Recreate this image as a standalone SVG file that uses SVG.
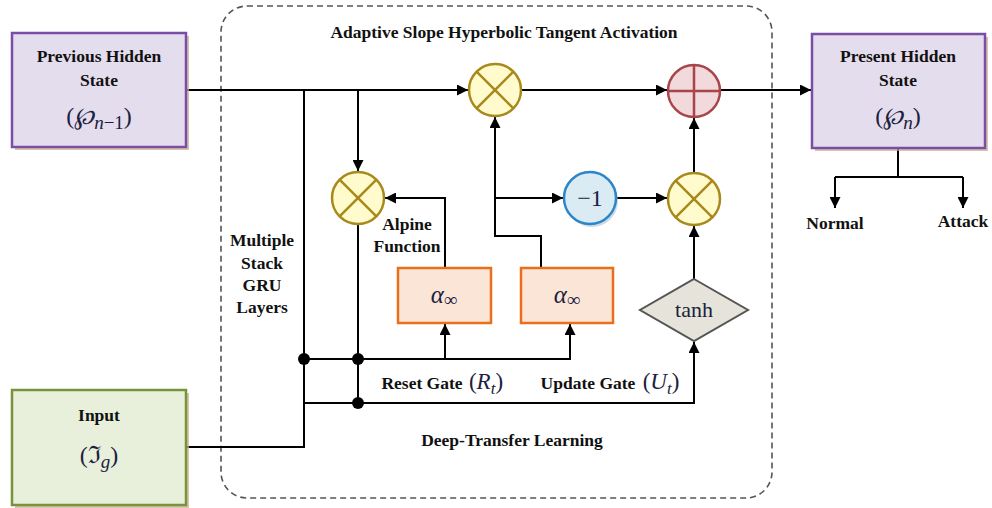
<svg xmlns="http://www.w3.org/2000/svg" width="992" height="508" viewBox="0 0 992 508">
  <style>
    .lbl { font-family: "Liberation Serif", "Times New Roman", serif; font-weight: bold; font-size: 17.5px; fill: #111; text-anchor: middle; }
    .math { font-family: "Liberation Serif", "DejaVu Serif", serif; fill: #1c2140; text-anchor: middle; }
    .it { font-style: italic; }
    .wp { font-family: "DejaVu Serif", serif; font-style: italic; }
    .wire { fill: none; stroke: #000; stroke-width: 2; }
    .arr { fill: none; stroke: #000; stroke-width: 2; marker-end: url(#ah); }
    .mul { fill: #fffbcc; stroke: #a8891c; stroke-width: 2.5; }
    .mulx { stroke: #a8891c; stroke-width: 2.5; }
    .shadow { fill: #c9a98a; opacity: 0.7; }
  </style>
  <defs>
    <marker id="ah" viewBox="0 0 10 10" refX="10" refY="5" markerWidth="5.5" markerHeight="5.5" orient="auto" markerUnits="strokeWidth">
      <path d="M0,0 L10,5 L0,10 Z" fill="#000"/>
    </marker>
  </defs>

  <rect width="992" height="508" fill="#fff"/>

  <!-- dashed container -->
  <g id="container">
    <rect x="221" y="6" width="551" height="492" rx="26" fill="none" stroke="#555" stroke-width="1.6" stroke-dasharray="6 4"/>
    <text class="lbl" x="504" y="38" font-size="18">Adaptive Slope Hyperbolic Tangent Activation</text>
    <text class="lbl" x="512" y="446">Deep-Transfer Learning</text>
    <text class="lbl" x="262" y="246">Multiple</text>
    <text class="lbl" x="262" y="269">Stack</text>
    <text class="lbl" x="262" y="291">GRU</text>
    <text class="lbl" x="262" y="313">Layers</text>
  </g>

  <!-- connectors -->
  <g id="connectors">
    <path class="arr" d="M187 90 H468"/>
    <path class="wire" d="M304 90 V447 H187"/>
    <path class="arr" d="M358 90 V171"/>
    <path class="arr" d="M521 90 H667"/>
    <path class="arr" d="M721 90 H811"/>
    <path class="arr" d="M541 268 V236 H495 V117"/>
    <path class="arr" d="M495 198 H563"/>
    <path class="arr" d="M617 198 H667"/>
    <path class="arr" d="M694 172 V118"/>
    <path class="arr" d="M694 279 V226"/>
    <path class="arr" d="M445 268 V198 H385"/>
    <path class="wire" d="M358 224 V403"/>
    <path class="arr" d="M304 359 H570 V324"/>
    <path class="arr" d="M445 359 V324"/>
    <path class="arr" d="M304 403 H694 V342"/>
    <path class="wire" d="M898 149 V177 M835 177 H963"/>
    <path class="arr" d="M835 177 V208"/>
    <path class="arr" d="M963 177 V208"/>
    <circle cx="304" cy="359" r="6" fill="#000"/>
    <circle cx="358" cy="359" r="6" fill="#000"/>
    <circle cx="358" cy="403" r="6" fill="#000"/>
  </g>

  <g id="prev-hidden">
    <rect class="shadow" x="15" y="36" width="174" height="114"/>
    <rect x="12" y="33" width="174" height="114" fill="#e4dded" stroke="#7b4ea6" stroke-width="2.5"/>
    <text class="lbl" x="99" y="62">Previous Hidden</text>
    <text class="lbl" x="99" y="86">State</text>
    <text class="math" x="99" y="124" font-size="24">(<tspan class="wp">℘</tspan><tspan class="it" font-size="19" dy="5">n</tspan><tspan font-size="19">−1</tspan><tspan dy="-5">)</tspan></text>
  </g>

  <g id="input">
    <rect class="shadow" x="15" y="393" width="174" height="115"/>
    <rect x="12" y="390" width="174" height="115" fill="#e8f0dc" stroke="#77933c" stroke-width="2.5"/>
    <text class="lbl" x="99" y="421">Input</text>
    <text class="math" x="99" y="463" font-size="24">(<tspan font-family="DejaVu Serif">ℑ</tspan><tspan class="it" font-size="19" dy="5">g</tspan><tspan dy="-5">)</tspan></text>
  </g>

  <g id="present-hidden">
    <rect class="shadow" x="815" y="37" width="173" height="114"/>
    <rect x="812" y="34" width="173" height="114" fill="#e4dded" stroke="#7b4ea6" stroke-width="2.5"/>
    <text class="lbl" x="898" y="62">Present Hidden</text>
    <text class="lbl" x="898" y="86">State</text>
    <text class="math" x="898" y="124" font-size="24">(<tspan class="wp">℘</tspan><tspan class="it" font-size="19" dy="5">n</tspan><tspan dy="-5">)</tspan></text>
  </g>

  <g id="mul-top">
    <circle class="mul" cx="495" cy="90" r="26"/>
    <path class="mulx" d="M476.6 71.6 L513.4 108.4 M513.4 71.6 L476.6 108.4"/>
  </g>

  <g id="mul-reset">
    <circle class="mul" cx="358" cy="198" r="26"/>
    <path class="mulx" d="M339.6 179.6 L376.4 216.4 M376.4 179.6 L339.6 216.4"/>
  </g>

  <g id="mul-update">
    <circle class="mul" cx="694" cy="199" r="26"/>
    <path class="mulx" d="M675.6 180.6 L712.4 217.4 M712.4 180.6 L675.6 217.4"/>
  </g>

  <g id="add">
    <circle cx="694" cy="91" r="26" fill="#f2d9db" stroke="#a8454a" stroke-width="2.5"/>
    <path d="M668 91 H720 M694 65 V117" stroke="#a8454a" stroke-width="2.5"/>
  </g>

  <g id="neg-one">
    <circle cx="592" cy="201" r="26" fill="#9fb6c8" opacity="0.5"/>
    <circle cx="590" cy="198" r="26" fill="#dbebf4" stroke="#2b86c9" stroke-width="2.5"/>
    <text class="math" x="590" y="206" font-size="24">−1</text>
  </g>

  <g id="alpine">
    <text class="lbl" x="407" y="230">Alpine</text>
    <text class="lbl" x="407" y="252">Function</text>
  </g>

  <g id="alpha-reset">
    <rect x="398" y="268" width="93" height="55" fill="#fbe5d7" stroke="#e8701c" stroke-width="2.5"/>
    <text class="math" x="444" y="303" font-size="25"><tspan class="it">α</tspan><tspan font-size="19" dy="3">∞</tspan></text>
  </g>

  <g id="alpha-update">
    <rect x="521" y="268" width="92" height="55" fill="#fbe5d7" stroke="#e8701c" stroke-width="2.5"/>
    <text class="math" x="567" y="303" font-size="25"><tspan class="it">α</tspan><tspan font-size="19" dy="3">∞</tspan></text>
  </g>

  <g id="tanh">
    <polygon points="694,279 748,310 694,341 640,310" fill="#e6e4da" stroke="#555" stroke-width="2"/>
    <text class="math" x="694" y="317" font-size="22">tanh</text>
  </g>

  <g id="gate-labels">
    <text class="lbl" x="422" y="389">Reset Gate</text>
    <text class="math" x="486" y="389" font-size="23">(<tspan class="it">R</tspan><tspan class="it" font-size="17" dy="5">t</tspan><tspan dy="-5">)</tspan></text>
    <text class="lbl" x="588" y="389">Update Gate</text>
    <text class="math" x="661" y="389" font-size="23">(<tspan class="it">U</tspan><tspan class="it" font-size="17" dy="5">t</tspan><tspan dy="-5">)</tspan></text>
  </g>

  <g id="outputs">
    <text class="lbl" x="835" y="229">Normal</text>
    <text class="lbl" x="963" y="227">Attack</text>
  </g>
</svg>
